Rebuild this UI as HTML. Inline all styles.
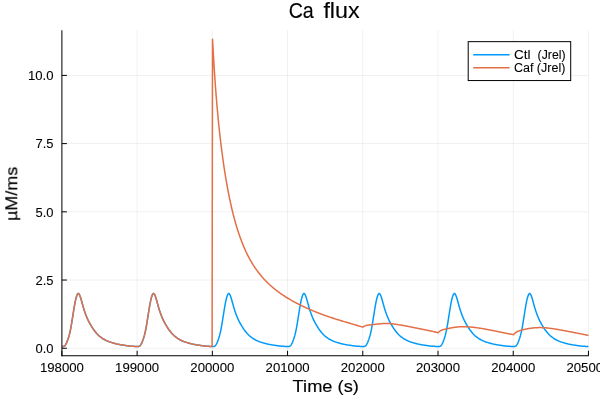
<!DOCTYPE html>
<html><head><meta charset="utf-8"><title>Ca flux</title>
<style>html,body{margin:0;padding:0;background:#fff;width:600px;height:400px;overflow:hidden;font-family:"Liberation Sans",sans-serif}</style>
</head><body>
<svg width="600" height="400" viewBox="0 0 600 400" style="position:absolute;left:0;top:0;display:block">
<defs><filter id="nf" x="0" y="0" width="600" height="400" filterUnits="userSpaceOnUse"><feOffset dx="0" dy="0"/></filter></defs>
<rect width="600" height="400" fill="#fff"/>
<path d="M61.90,30.3V355.3 M137.12,30.3V355.3 M212.34,30.3V355.3 M287.56,30.3V355.3 M362.78,30.3V355.3 M438.00,30.3V355.3 M513.22,30.3V355.3 M588.44,30.3V355.3 M61.9,348.25H588.4 M61.9,280.04H588.4 M61.9,211.82H588.4 M61.9,143.61H588.4 M61.9,75.40H588.4" stroke="#000" stroke-opacity="0.1" stroke-width="0.6" fill="none"/>
<clipPath id="c"><rect x="61.9" y="30.3" width="527.1" height="325.0"/></clipPath>
<g clip-path="url(#c)" fill="none" stroke-width="1.5" stroke-linejoin="round">
<path d="M61.90,346.55 L62.30,346.54 L62.70,346.53 L63.10,346.50 L63.50,346.44 L63.90,346.32 L64.30,346.15 L64.70,345.89 L65.10,345.42 L65.50,344.83 L65.90,344.17 L66.30,343.45 L66.70,342.59 L67.10,341.63 L67.50,340.60 L67.90,339.51 L68.30,338.32 L68.70,337.03 L69.10,335.64 L69.50,334.10 L69.90,332.40 L70.30,330.55 L70.70,328.52 L71.10,326.34 L71.50,324.06 L71.90,321.62 L72.30,319.12 L72.70,316.60 L73.10,314.02 L73.50,311.50 L73.90,309.05 L74.30,306.68 L74.70,304.46 L75.10,302.34 L75.50,300.38 L75.90,298.70 L76.30,297.22 L76.70,295.97 L77.10,294.94 L77.50,294.14 L77.90,293.65 L78.30,293.40 L78.70,293.60 L79.10,294.02 L79.50,294.76 L79.90,295.70 L80.30,296.78 L80.70,298.02 L81.10,299.33 L81.50,300.73 L81.90,302.19 L82.30,303.65 L82.70,305.06 L83.10,306.48 L83.50,307.87 L83.90,309.19 L84.30,310.42 L84.70,311.62 L85.10,312.79 L85.50,313.92 L85.90,315.00 L86.30,316.05 L86.70,317.04 L87.10,317.98 L87.50,318.88 L87.90,319.73 L88.30,320.55 L88.70,321.35 L89.10,322.11 L89.50,322.85 L89.90,323.57 L90.30,324.28 L90.70,324.97 L91.10,325.66 L91.50,326.33 L91.90,326.98 L92.30,327.62 L92.70,328.23 L93.10,328.83 L93.50,329.41 L93.90,329.97 L94.30,330.50 L94.70,331.01 L95.10,331.52 L95.50,332.01 L95.90,332.49 L96.30,332.96 L96.70,333.42 L97.10,333.86 L97.50,334.28 L97.90,334.69 L98.30,335.09 L98.70,335.47 L99.10,335.83 L99.50,336.17 L99.90,336.50 L100.30,336.82 L100.70,337.13 L101.10,337.43 L101.50,337.73 L101.90,338.01 L102.30,338.28 L102.70,338.54 L103.10,338.79 L103.50,339.04 L103.90,339.27 L104.30,339.50 L104.70,339.72 L105.10,339.93 L105.50,340.14 L105.90,340.34 L106.30,340.54 L106.70,340.72 L107.10,340.91 L107.50,341.08 L107.90,341.25 L108.30,341.42 L108.70,341.58 L109.10,341.73 L109.50,341.87 L109.90,342.01 L110.30,342.15 L110.70,342.28 L111.10,342.40 L111.50,342.52 L111.90,342.64 L112.30,342.75 L112.70,342.87 L113.10,342.98 L113.50,343.09 L113.90,343.19 L114.30,343.30 L114.70,343.41 L115.10,343.51 L115.50,343.62 L115.90,343.72 L116.30,343.82 L116.70,343.92 L117.10,344.02 L117.50,344.11 L117.90,344.21 L118.30,344.29 L118.70,344.38 L119.10,344.46 L119.50,344.54 L119.90,344.61 L120.30,344.68 L120.70,344.75 L121.10,344.82 L121.50,344.88 L121.90,344.94 L122.30,345.00 L122.70,345.06 L123.10,345.12 L123.50,345.18 L123.90,345.24 L124.30,345.30 L124.70,345.36 L125.10,345.42 L125.50,345.48 L125.90,345.54 L126.30,345.61 L126.70,345.66 L127.10,345.72 L127.50,345.78 L127.90,345.83 L128.30,345.89 L128.70,345.93 L129.10,345.98 L129.50,346.02 L129.90,346.06 L130.30,346.10 L130.70,346.13 L131.10,346.17 L131.50,346.20 L131.90,346.23 L132.30,346.26 L132.70,346.29 L133.10,346.32 L133.50,346.35 L133.90,346.37 L134.30,346.40 L134.70,346.42 L135.10,346.45 L135.50,346.47 L135.90,346.49 L136.30,346.51 L136.70,346.53 L137.10,346.55 L137.12,346.55 L137.52,346.54 L137.92,346.53 L138.32,346.50 L138.72,346.44 L139.12,346.32 L139.52,346.15 L139.92,345.89 L140.32,345.42 L140.72,344.83 L141.12,344.17 L141.52,343.45 L141.92,342.59 L142.32,341.63 L142.72,340.60 L143.12,339.51 L143.52,338.32 L143.92,337.03 L144.32,335.64 L144.72,334.10 L145.12,332.40 L145.52,330.55 L145.92,328.52 L146.32,326.34 L146.72,324.06 L147.12,321.62 L147.52,319.12 L147.92,316.60 L148.32,314.02 L148.72,311.50 L149.12,309.05 L149.52,306.68 L149.92,304.46 L150.32,302.34 L150.72,300.38 L151.12,298.70 L151.52,297.22 L151.92,295.97 L152.32,294.94 L152.72,294.14 L153.12,293.65 L153.52,293.40 L153.92,293.60 L154.32,294.02 L154.72,294.76 L155.12,295.70 L155.52,296.78 L155.92,298.02 L156.32,299.33 L156.72,300.73 L157.12,302.19 L157.52,303.65 L157.92,305.06 L158.32,306.48 L158.72,307.87 L159.12,309.19 L159.52,310.42 L159.92,311.62 L160.32,312.79 L160.72,313.92 L161.12,315.00 L161.52,316.05 L161.92,317.04 L162.32,317.98 L162.72,318.88 L163.12,319.73 L163.52,320.55 L163.92,321.35 L164.32,322.11 L164.72,322.85 L165.12,323.57 L165.52,324.28 L165.92,324.97 L166.32,325.66 L166.72,326.33 L167.12,326.98 L167.52,327.62 L167.92,328.23 L168.32,328.83 L168.72,329.41 L169.12,329.97 L169.52,330.50 L169.92,331.01 L170.32,331.52 L170.72,332.01 L171.12,332.49 L171.52,332.96 L171.92,333.42 L172.32,333.86 L172.72,334.28 L173.12,334.69 L173.52,335.09 L173.92,335.47 L174.32,335.83 L174.72,336.17 L175.12,336.50 L175.52,336.82 L175.92,337.13 L176.32,337.43 L176.72,337.73 L177.12,338.01 L177.52,338.28 L177.92,338.54 L178.32,338.79 L178.72,339.04 L179.12,339.27 L179.52,339.50 L179.92,339.72 L180.32,339.93 L180.72,340.14 L181.12,340.34 L181.52,340.54 L181.92,340.72 L182.32,340.91 L182.72,341.08 L183.12,341.25 L183.52,341.42 L183.92,341.58 L184.32,341.73 L184.72,341.87 L185.12,342.01 L185.52,342.15 L185.92,342.28 L186.32,342.40 L186.72,342.52 L187.12,342.64 L187.52,342.75 L187.92,342.87 L188.32,342.98 L188.72,343.09 L189.12,343.19 L189.52,343.30 L189.92,343.41 L190.32,343.51 L190.72,343.62 L191.12,343.72 L191.52,343.82 L191.92,343.92 L192.32,344.02 L192.72,344.11 L193.12,344.21 L193.52,344.29 L193.92,344.38 L194.32,344.46 L194.72,344.54 L195.12,344.61 L195.52,344.68 L195.92,344.75 L196.32,344.82 L196.72,344.88 L197.12,344.94 L197.52,345.00 L197.92,345.06 L198.32,345.12 L198.72,345.18 L199.12,345.24 L199.52,345.30 L199.92,345.36 L200.32,345.42 L200.72,345.48 L201.12,345.54 L201.52,345.61 L201.92,345.66 L202.32,345.72 L202.72,345.78 L203.12,345.83 L203.52,345.89 L203.92,345.93 L204.32,345.98 L204.72,346.02 L205.12,346.06 L205.52,346.10 L205.92,346.13 L206.32,346.17 L206.72,346.20 L207.12,346.23 L207.52,346.26 L207.92,346.29 L208.32,346.32 L208.72,346.35 L209.12,346.37 L209.52,346.40 L209.92,346.42 L210.32,346.45 L210.72,346.47 L211.12,346.49 L211.52,346.51 L211.92,346.53 L212.32,346.55 L212.34,346.55 L212.74,346.54 L213.14,346.53 L213.54,346.50 L213.94,346.44 L214.34,346.32 L214.74,346.15 L215.14,345.89 L215.54,345.42 L215.94,344.83 L216.34,344.17 L216.74,343.45 L217.14,342.59 L217.54,341.63 L217.94,340.60 L218.34,339.51 L218.74,338.32 L219.14,337.03 L219.54,335.64 L219.94,334.10 L220.34,332.40 L220.74,330.55 L221.14,328.52 L221.54,326.34 L221.94,324.06 L222.34,321.62 L222.74,319.12 L223.14,316.60 L223.54,314.02 L223.94,311.50 L224.34,309.05 L224.74,306.68 L225.14,304.46 L225.54,302.34 L225.94,300.38 L226.34,298.70 L226.74,297.22 L227.14,295.97 L227.54,294.94 L227.94,294.14 L228.34,293.65 L228.74,293.40 L229.14,293.60 L229.54,294.02 L229.94,294.76 L230.34,295.70 L230.74,296.78 L231.14,298.02 L231.54,299.33 L231.94,300.73 L232.34,302.19 L232.74,303.65 L233.14,305.06 L233.54,306.48 L233.94,307.87 L234.34,309.19 L234.74,310.42 L235.14,311.62 L235.54,312.79 L235.94,313.92 L236.34,315.00 L236.74,316.05 L237.14,317.04 L237.54,317.98 L237.94,318.88 L238.34,319.73 L238.74,320.55 L239.14,321.35 L239.54,322.11 L239.94,322.85 L240.34,323.57 L240.74,324.28 L241.14,324.97 L241.54,325.66 L241.94,326.33 L242.34,326.98 L242.74,327.62 L243.14,328.23 L243.54,328.83 L243.94,329.41 L244.34,329.97 L244.74,330.50 L245.14,331.01 L245.54,331.52 L245.94,332.01 L246.34,332.49 L246.74,332.96 L247.14,333.42 L247.54,333.86 L247.94,334.28 L248.34,334.69 L248.74,335.09 L249.14,335.47 L249.54,335.83 L249.94,336.17 L250.34,336.50 L250.74,336.82 L251.14,337.13 L251.54,337.43 L251.94,337.73 L252.34,338.01 L252.74,338.28 L253.14,338.54 L253.54,338.79 L253.94,339.04 L254.34,339.27 L254.74,339.50 L255.14,339.72 L255.54,339.93 L255.94,340.14 L256.34,340.34 L256.74,340.54 L257.14,340.72 L257.54,340.91 L257.94,341.08 L258.34,341.25 L258.74,341.42 L259.14,341.58 L259.54,341.73 L259.94,341.87 L260.34,342.01 L260.74,342.15 L261.14,342.28 L261.54,342.40 L261.94,342.52 L262.34,342.64 L262.74,342.75 L263.14,342.87 L263.54,342.98 L263.94,343.09 L264.34,343.19 L264.74,343.30 L265.14,343.41 L265.54,343.51 L265.94,343.62 L266.34,343.72 L266.74,343.82 L267.14,343.92 L267.54,344.02 L267.94,344.11 L268.34,344.21 L268.74,344.29 L269.14,344.38 L269.54,344.46 L269.94,344.54 L270.34,344.61 L270.74,344.68 L271.14,344.75 L271.54,344.82 L271.94,344.88 L272.34,344.94 L272.74,345.00 L273.14,345.06 L273.54,345.12 L273.94,345.18 L274.34,345.24 L274.74,345.30 L275.14,345.36 L275.54,345.42 L275.94,345.48 L276.34,345.54 L276.74,345.61 L277.14,345.66 L277.54,345.72 L277.94,345.78 L278.34,345.83 L278.74,345.89 L279.14,345.93 L279.54,345.98 L279.94,346.02 L280.34,346.06 L280.74,346.10 L281.14,346.13 L281.54,346.17 L281.94,346.20 L282.34,346.23 L282.74,346.26 L283.14,346.29 L283.54,346.32 L283.94,346.35 L284.34,346.37 L284.74,346.40 L285.14,346.42 L285.54,346.45 L285.94,346.47 L286.34,346.49 L286.74,346.51 L287.14,346.53 L287.54,346.55 L287.56,346.55 L287.96,346.54 L288.36,346.53 L288.76,346.50 L289.16,346.44 L289.56,346.32 L289.96,346.15 L290.36,345.89 L290.76,345.42 L291.16,344.83 L291.56,344.17 L291.96,343.45 L292.36,342.59 L292.76,341.63 L293.16,340.60 L293.56,339.51 L293.96,338.32 L294.36,337.03 L294.76,335.64 L295.16,334.10 L295.56,332.40 L295.96,330.55 L296.36,328.52 L296.76,326.34 L297.16,324.06 L297.56,321.62 L297.96,319.12 L298.36,316.60 L298.76,314.02 L299.16,311.50 L299.56,309.05 L299.96,306.68 L300.36,304.46 L300.76,302.34 L301.16,300.38 L301.56,298.70 L301.96,297.22 L302.36,295.97 L302.76,294.94 L303.16,294.14 L303.56,293.65 L303.96,293.40 L304.36,293.60 L304.76,294.02 L305.16,294.76 L305.56,295.70 L305.96,296.78 L306.36,298.02 L306.76,299.33 L307.16,300.73 L307.56,302.19 L307.96,303.65 L308.36,305.06 L308.76,306.48 L309.16,307.87 L309.56,309.19 L309.96,310.42 L310.36,311.62 L310.76,312.79 L311.16,313.92 L311.56,315.00 L311.96,316.05 L312.36,317.04 L312.76,317.98 L313.16,318.88 L313.56,319.73 L313.96,320.55 L314.36,321.35 L314.76,322.11 L315.16,322.85 L315.56,323.57 L315.96,324.28 L316.36,324.97 L316.76,325.66 L317.16,326.33 L317.56,326.98 L317.96,327.62 L318.36,328.23 L318.76,328.83 L319.16,329.41 L319.56,329.97 L319.96,330.50 L320.36,331.01 L320.76,331.52 L321.16,332.01 L321.56,332.49 L321.96,332.96 L322.36,333.42 L322.76,333.86 L323.16,334.28 L323.56,334.69 L323.96,335.09 L324.36,335.47 L324.76,335.83 L325.16,336.17 L325.56,336.50 L325.96,336.82 L326.36,337.13 L326.76,337.43 L327.16,337.73 L327.56,338.01 L327.96,338.28 L328.36,338.54 L328.76,338.79 L329.16,339.04 L329.56,339.27 L329.96,339.50 L330.36,339.72 L330.76,339.93 L331.16,340.14 L331.56,340.34 L331.96,340.54 L332.36,340.72 L332.76,340.91 L333.16,341.08 L333.56,341.25 L333.96,341.42 L334.36,341.58 L334.76,341.73 L335.16,341.87 L335.56,342.01 L335.96,342.15 L336.36,342.28 L336.76,342.40 L337.16,342.52 L337.56,342.64 L337.96,342.75 L338.36,342.87 L338.76,342.98 L339.16,343.09 L339.56,343.19 L339.96,343.30 L340.36,343.41 L340.76,343.51 L341.16,343.62 L341.56,343.72 L341.96,343.82 L342.36,343.92 L342.76,344.02 L343.16,344.11 L343.56,344.21 L343.96,344.29 L344.36,344.38 L344.76,344.46 L345.16,344.54 L345.56,344.61 L345.96,344.68 L346.36,344.75 L346.76,344.82 L347.16,344.88 L347.56,344.94 L347.96,345.00 L348.36,345.06 L348.76,345.12 L349.16,345.18 L349.56,345.24 L349.96,345.30 L350.36,345.36 L350.76,345.42 L351.16,345.48 L351.56,345.54 L351.96,345.61 L352.36,345.66 L352.76,345.72 L353.16,345.78 L353.56,345.83 L353.96,345.89 L354.36,345.93 L354.76,345.98 L355.16,346.02 L355.56,346.06 L355.96,346.10 L356.36,346.13 L356.76,346.17 L357.16,346.20 L357.56,346.23 L357.96,346.26 L358.36,346.29 L358.76,346.32 L359.16,346.35 L359.56,346.37 L359.96,346.40 L360.36,346.42 L360.76,346.45 L361.16,346.47 L361.56,346.49 L361.96,346.51 L362.36,346.53 L362.76,346.55 L362.78,346.55 L363.18,346.54 L363.58,346.53 L363.98,346.50 L364.38,346.44 L364.78,346.32 L365.18,346.15 L365.58,345.89 L365.98,345.42 L366.38,344.83 L366.78,344.17 L367.18,343.45 L367.58,342.59 L367.98,341.63 L368.38,340.60 L368.78,339.51 L369.18,338.32 L369.58,337.03 L369.98,335.64 L370.38,334.10 L370.78,332.40 L371.18,330.55 L371.58,328.52 L371.98,326.34 L372.38,324.06 L372.78,321.62 L373.18,319.12 L373.58,316.60 L373.98,314.02 L374.38,311.50 L374.78,309.05 L375.18,306.68 L375.58,304.46 L375.98,302.34 L376.38,300.38 L376.78,298.70 L377.18,297.22 L377.58,295.97 L377.98,294.94 L378.38,294.14 L378.78,293.65 L379.18,293.40 L379.58,293.60 L379.98,294.02 L380.38,294.76 L380.78,295.70 L381.18,296.78 L381.58,298.02 L381.98,299.33 L382.38,300.73 L382.78,302.19 L383.18,303.65 L383.58,305.06 L383.98,306.48 L384.38,307.87 L384.78,309.19 L385.18,310.42 L385.58,311.62 L385.98,312.79 L386.38,313.92 L386.78,315.00 L387.18,316.05 L387.58,317.04 L387.98,317.98 L388.38,318.88 L388.78,319.73 L389.18,320.55 L389.58,321.35 L389.98,322.11 L390.38,322.85 L390.78,323.57 L391.18,324.28 L391.58,324.97 L391.98,325.66 L392.38,326.33 L392.78,326.98 L393.18,327.62 L393.58,328.23 L393.98,328.83 L394.38,329.41 L394.78,329.97 L395.18,330.50 L395.58,331.01 L395.98,331.52 L396.38,332.01 L396.78,332.49 L397.18,332.96 L397.58,333.42 L397.98,333.86 L398.38,334.28 L398.78,334.69 L399.18,335.09 L399.58,335.47 L399.98,335.83 L400.38,336.17 L400.78,336.50 L401.18,336.82 L401.58,337.13 L401.98,337.43 L402.38,337.73 L402.78,338.01 L403.18,338.28 L403.58,338.54 L403.98,338.79 L404.38,339.04 L404.78,339.27 L405.18,339.50 L405.58,339.72 L405.98,339.93 L406.38,340.14 L406.78,340.34 L407.18,340.54 L407.58,340.72 L407.98,340.91 L408.38,341.08 L408.78,341.25 L409.18,341.42 L409.58,341.58 L409.98,341.73 L410.38,341.87 L410.78,342.01 L411.18,342.15 L411.58,342.28 L411.98,342.40 L412.38,342.52 L412.78,342.64 L413.18,342.75 L413.58,342.87 L413.98,342.98 L414.38,343.09 L414.78,343.19 L415.18,343.30 L415.58,343.41 L415.98,343.51 L416.38,343.62 L416.78,343.72 L417.18,343.82 L417.58,343.92 L417.98,344.02 L418.38,344.11 L418.78,344.21 L419.18,344.29 L419.58,344.38 L419.98,344.46 L420.38,344.54 L420.78,344.61 L421.18,344.68 L421.58,344.75 L421.98,344.82 L422.38,344.88 L422.78,344.94 L423.18,345.00 L423.58,345.06 L423.98,345.12 L424.38,345.18 L424.78,345.24 L425.18,345.30 L425.58,345.36 L425.98,345.42 L426.38,345.48 L426.78,345.54 L427.18,345.61 L427.58,345.66 L427.98,345.72 L428.38,345.78 L428.78,345.83 L429.18,345.89 L429.58,345.93 L429.98,345.98 L430.38,346.02 L430.78,346.06 L431.18,346.10 L431.58,346.13 L431.98,346.17 L432.38,346.20 L432.78,346.23 L433.18,346.26 L433.58,346.29 L433.98,346.32 L434.38,346.35 L434.78,346.37 L435.18,346.40 L435.58,346.42 L435.98,346.45 L436.38,346.47 L436.78,346.49 L437.18,346.51 L437.58,346.53 L437.98,346.55 L438.00,346.55 L438.40,346.54 L438.80,346.53 L439.20,346.50 L439.60,346.44 L440.00,346.32 L440.40,346.15 L440.80,345.89 L441.20,345.42 L441.60,344.83 L442.00,344.17 L442.40,343.45 L442.80,342.59 L443.20,341.63 L443.60,340.60 L444.00,339.51 L444.40,338.32 L444.80,337.03 L445.20,335.64 L445.60,334.10 L446.00,332.40 L446.40,330.55 L446.80,328.52 L447.20,326.34 L447.60,324.06 L448.00,321.62 L448.40,319.12 L448.80,316.60 L449.20,314.02 L449.60,311.50 L450.00,309.05 L450.40,306.68 L450.80,304.46 L451.20,302.34 L451.60,300.38 L452.00,298.70 L452.40,297.22 L452.80,295.97 L453.20,294.94 L453.60,294.14 L454.00,293.65 L454.40,293.40 L454.80,293.60 L455.20,294.02 L455.60,294.76 L456.00,295.70 L456.40,296.78 L456.80,298.02 L457.20,299.33 L457.60,300.73 L458.00,302.19 L458.40,303.65 L458.80,305.06 L459.20,306.48 L459.60,307.87 L460.00,309.19 L460.40,310.42 L460.80,311.62 L461.20,312.79 L461.60,313.92 L462.00,315.00 L462.40,316.05 L462.80,317.04 L463.20,317.98 L463.60,318.88 L464.00,319.73 L464.40,320.55 L464.80,321.35 L465.20,322.11 L465.60,322.85 L466.00,323.57 L466.40,324.28 L466.80,324.97 L467.20,325.66 L467.60,326.33 L468.00,326.98 L468.40,327.62 L468.80,328.23 L469.20,328.83 L469.60,329.41 L470.00,329.97 L470.40,330.50 L470.80,331.01 L471.20,331.52 L471.60,332.01 L472.00,332.49 L472.40,332.96 L472.80,333.42 L473.20,333.86 L473.60,334.28 L474.00,334.69 L474.40,335.09 L474.80,335.47 L475.20,335.83 L475.60,336.17 L476.00,336.50 L476.40,336.82 L476.80,337.13 L477.20,337.43 L477.60,337.73 L478.00,338.01 L478.40,338.28 L478.80,338.54 L479.20,338.79 L479.60,339.04 L480.00,339.27 L480.40,339.50 L480.80,339.72 L481.20,339.93 L481.60,340.14 L482.00,340.34 L482.40,340.54 L482.80,340.72 L483.20,340.91 L483.60,341.08 L484.00,341.25 L484.40,341.42 L484.80,341.58 L485.20,341.73 L485.60,341.87 L486.00,342.01 L486.40,342.15 L486.80,342.28 L487.20,342.40 L487.60,342.52 L488.00,342.64 L488.40,342.75 L488.80,342.87 L489.20,342.98 L489.60,343.09 L490.00,343.19 L490.40,343.30 L490.80,343.41 L491.20,343.51 L491.60,343.62 L492.00,343.72 L492.40,343.82 L492.80,343.92 L493.20,344.02 L493.60,344.11 L494.00,344.21 L494.40,344.29 L494.80,344.38 L495.20,344.46 L495.60,344.54 L496.00,344.61 L496.40,344.68 L496.80,344.75 L497.20,344.82 L497.60,344.88 L498.00,344.94 L498.40,345.00 L498.80,345.06 L499.20,345.12 L499.60,345.18 L500.00,345.24 L500.40,345.30 L500.80,345.36 L501.20,345.42 L501.60,345.48 L502.00,345.54 L502.40,345.61 L502.80,345.66 L503.20,345.72 L503.60,345.78 L504.00,345.83 L504.40,345.89 L504.80,345.93 L505.20,345.98 L505.60,346.02 L506.00,346.06 L506.40,346.10 L506.80,346.13 L507.20,346.17 L507.60,346.20 L508.00,346.23 L508.40,346.26 L508.80,346.29 L509.20,346.32 L509.60,346.35 L510.00,346.37 L510.40,346.40 L510.80,346.42 L511.20,346.45 L511.60,346.47 L512.00,346.49 L512.40,346.51 L512.80,346.53 L513.20,346.55 L513.22,346.55 L513.62,346.54 L514.02,346.53 L514.42,346.50 L514.82,346.44 L515.22,346.32 L515.62,346.15 L516.02,345.89 L516.42,345.42 L516.82,344.83 L517.22,344.17 L517.62,343.45 L518.02,342.59 L518.42,341.63 L518.82,340.60 L519.22,339.51 L519.62,338.32 L520.02,337.03 L520.42,335.64 L520.82,334.10 L521.22,332.40 L521.62,330.55 L522.02,328.52 L522.42,326.34 L522.82,324.06 L523.22,321.62 L523.62,319.12 L524.02,316.60 L524.42,314.02 L524.82,311.50 L525.22,309.05 L525.62,306.68 L526.02,304.46 L526.42,302.34 L526.82,300.38 L527.22,298.70 L527.62,297.22 L528.02,295.97 L528.42,294.94 L528.82,294.14 L529.22,293.65 L529.62,293.40 L530.02,293.60 L530.42,294.02 L530.82,294.76 L531.22,295.70 L531.62,296.78 L532.02,298.02 L532.42,299.33 L532.82,300.73 L533.22,302.19 L533.62,303.65 L534.02,305.06 L534.42,306.48 L534.82,307.87 L535.22,309.19 L535.62,310.42 L536.02,311.62 L536.42,312.79 L536.82,313.92 L537.22,315.00 L537.62,316.05 L538.02,317.04 L538.42,317.98 L538.82,318.88 L539.22,319.73 L539.62,320.55 L540.02,321.35 L540.42,322.11 L540.82,322.85 L541.22,323.57 L541.62,324.28 L542.02,324.97 L542.42,325.66 L542.82,326.33 L543.22,326.98 L543.62,327.62 L544.02,328.23 L544.42,328.83 L544.82,329.41 L545.22,329.97 L545.62,330.50 L546.02,331.01 L546.42,331.52 L546.82,332.01 L547.22,332.49 L547.62,332.96 L548.02,333.42 L548.42,333.86 L548.82,334.28 L549.22,334.69 L549.62,335.09 L550.02,335.47 L550.42,335.83 L550.82,336.17 L551.22,336.50 L551.62,336.82 L552.02,337.13 L552.42,337.43 L552.82,337.73 L553.22,338.01 L553.62,338.28 L554.02,338.54 L554.42,338.79 L554.82,339.04 L555.22,339.27 L555.62,339.50 L556.02,339.72 L556.42,339.93 L556.82,340.14 L557.22,340.34 L557.62,340.54 L558.02,340.72 L558.42,340.91 L558.82,341.08 L559.22,341.25 L559.62,341.42 L560.02,341.58 L560.42,341.73 L560.82,341.87 L561.22,342.01 L561.62,342.15 L562.02,342.28 L562.42,342.40 L562.82,342.52 L563.22,342.64 L563.62,342.75 L564.02,342.87 L564.42,342.98 L564.82,343.09 L565.22,343.19 L565.62,343.30 L566.02,343.41 L566.42,343.51 L566.82,343.62 L567.22,343.72 L567.62,343.82 L568.02,343.92 L568.42,344.02 L568.82,344.11 L569.22,344.21 L569.62,344.29 L570.02,344.38 L570.42,344.46 L570.82,344.54 L571.22,344.61 L571.62,344.68 L572.02,344.75 L572.42,344.82 L572.82,344.88 L573.22,344.94 L573.62,345.00 L574.02,345.06 L574.42,345.12 L574.82,345.18 L575.22,345.24 L575.62,345.30 L576.02,345.36 L576.42,345.42 L576.82,345.48 L577.22,345.54 L577.62,345.61 L578.02,345.66 L578.42,345.72 L578.82,345.78 L579.22,345.83 L579.62,345.89 L580.02,345.93 L580.42,345.98 L580.82,346.02 L581.22,346.06 L581.62,346.10 L582.02,346.13 L582.42,346.17 L582.82,346.20 L583.22,346.23 L583.62,346.26 L584.02,346.29 L584.42,346.32 L584.82,346.35 L585.22,346.37 L585.62,346.40 L586.02,346.42 L586.42,346.45 L586.82,346.47 L587.22,346.49 L587.62,346.51 L588.02,346.53 L588.40,346.55" stroke="#009AFA"/>
<path d="M61.90,346.55 L62.30,346.54 L62.70,346.53 L63.10,346.50 L63.50,346.44 L63.90,346.32 L64.30,346.15 L64.70,345.89 L65.10,345.42 L65.50,344.83 L65.90,344.17 L66.30,343.45 L66.70,342.59 L67.10,341.63 L67.50,340.60 L67.90,339.51 L68.30,338.32 L68.70,337.03 L69.10,335.64 L69.50,334.10 L69.90,332.40 L70.30,330.55 L70.70,328.52 L71.10,326.34 L71.50,324.06 L71.90,321.62 L72.30,319.12 L72.70,316.60 L73.10,314.02 L73.50,311.50 L73.90,309.05 L74.30,306.68 L74.70,304.46 L75.10,302.34 L75.50,300.38 L75.90,298.70 L76.30,297.22 L76.70,295.97 L77.10,294.94 L77.50,294.14 L77.90,293.65 L78.30,293.40 L78.70,293.60 L79.10,294.02 L79.50,294.76 L79.90,295.70 L80.30,296.78 L80.70,298.02 L81.10,299.33 L81.50,300.73 L81.90,302.19 L82.30,303.65 L82.70,305.06 L83.10,306.48 L83.50,307.87 L83.90,309.19 L84.30,310.42 L84.70,311.62 L85.10,312.79 L85.50,313.92 L85.90,315.00 L86.30,316.05 L86.70,317.04 L87.10,317.98 L87.50,318.88 L87.90,319.73 L88.30,320.55 L88.70,321.35 L89.10,322.11 L89.50,322.85 L89.90,323.57 L90.30,324.28 L90.70,324.97 L91.10,325.66 L91.50,326.33 L91.90,326.98 L92.30,327.62 L92.70,328.23 L93.10,328.83 L93.50,329.41 L93.90,329.97 L94.30,330.50 L94.70,331.01 L95.10,331.52 L95.50,332.01 L95.90,332.49 L96.30,332.96 L96.70,333.42 L97.10,333.86 L97.50,334.28 L97.90,334.69 L98.30,335.09 L98.70,335.47 L99.10,335.83 L99.50,336.17 L99.90,336.50 L100.30,336.82 L100.70,337.13 L101.10,337.43 L101.50,337.73 L101.90,338.01 L102.30,338.28 L102.70,338.54 L103.10,338.79 L103.50,339.04 L103.90,339.27 L104.30,339.50 L104.70,339.72 L105.10,339.93 L105.50,340.14 L105.90,340.34 L106.30,340.54 L106.70,340.72 L107.10,340.91 L107.50,341.08 L107.90,341.25 L108.30,341.42 L108.70,341.58 L109.10,341.73 L109.50,341.87 L109.90,342.01 L110.30,342.15 L110.70,342.28 L111.10,342.40 L111.50,342.52 L111.90,342.64 L112.30,342.75 L112.70,342.87 L113.10,342.98 L113.50,343.09 L113.90,343.19 L114.30,343.30 L114.70,343.41 L115.10,343.51 L115.50,343.62 L115.90,343.72 L116.30,343.82 L116.70,343.92 L117.10,344.02 L117.50,344.11 L117.90,344.21 L118.30,344.29 L118.70,344.38 L119.10,344.46 L119.50,344.54 L119.90,344.61 L120.30,344.68 L120.70,344.75 L121.10,344.82 L121.50,344.88 L121.90,344.94 L122.30,345.00 L122.70,345.06 L123.10,345.12 L123.50,345.18 L123.90,345.24 L124.30,345.30 L124.70,345.36 L125.10,345.42 L125.50,345.48 L125.90,345.54 L126.30,345.61 L126.70,345.66 L127.10,345.72 L127.50,345.78 L127.90,345.83 L128.30,345.89 L128.70,345.93 L129.10,345.98 L129.50,346.02 L129.90,346.06 L130.30,346.10 L130.70,346.13 L131.10,346.17 L131.50,346.20 L131.90,346.23 L132.30,346.26 L132.70,346.29 L133.10,346.32 L133.50,346.35 L133.90,346.37 L134.30,346.40 L134.70,346.42 L135.10,346.45 L135.50,346.47 L135.90,346.49 L136.30,346.51 L136.70,346.53 L137.10,346.55 L137.12,346.55 L137.52,346.54 L137.92,346.53 L138.32,346.50 L138.72,346.44 L139.12,346.32 L139.52,346.15 L139.92,345.89 L140.32,345.42 L140.72,344.83 L141.12,344.17 L141.52,343.45 L141.92,342.59 L142.32,341.63 L142.72,340.60 L143.12,339.51 L143.52,338.32 L143.92,337.03 L144.32,335.64 L144.72,334.10 L145.12,332.40 L145.52,330.55 L145.92,328.52 L146.32,326.34 L146.72,324.06 L147.12,321.62 L147.52,319.12 L147.92,316.60 L148.32,314.02 L148.72,311.50 L149.12,309.05 L149.52,306.68 L149.92,304.46 L150.32,302.34 L150.72,300.38 L151.12,298.70 L151.52,297.22 L151.92,295.97 L152.32,294.94 L152.72,294.14 L153.12,293.65 L153.52,293.40 L153.92,293.60 L154.32,294.02 L154.72,294.76 L155.12,295.70 L155.52,296.78 L155.92,298.02 L156.32,299.33 L156.72,300.73 L157.12,302.19 L157.52,303.65 L157.92,305.06 L158.32,306.48 L158.72,307.87 L159.12,309.19 L159.52,310.42 L159.92,311.62 L160.32,312.79 L160.72,313.92 L161.12,315.00 L161.52,316.05 L161.92,317.04 L162.32,317.98 L162.72,318.88 L163.12,319.73 L163.52,320.55 L163.92,321.35 L164.32,322.11 L164.72,322.85 L165.12,323.57 L165.52,324.28 L165.92,324.97 L166.32,325.66 L166.72,326.33 L167.12,326.98 L167.52,327.62 L167.92,328.23 L168.32,328.83 L168.72,329.41 L169.12,329.97 L169.52,330.50 L169.92,331.01 L170.32,331.52 L170.72,332.01 L171.12,332.49 L171.52,332.96 L171.92,333.42 L172.32,333.86 L172.72,334.28 L173.12,334.69 L173.52,335.09 L173.92,335.47 L174.32,335.83 L174.72,336.17 L175.12,336.50 L175.52,336.82 L175.92,337.13 L176.32,337.43 L176.72,337.73 L177.12,338.01 L177.52,338.28 L177.92,338.54 L178.32,338.79 L178.72,339.04 L179.12,339.27 L179.52,339.50 L179.92,339.72 L180.32,339.93 L180.72,340.14 L181.12,340.34 L181.52,340.54 L181.92,340.72 L182.32,340.91 L182.72,341.08 L183.12,341.25 L183.52,341.42 L183.92,341.58 L184.32,341.73 L184.72,341.87 L185.12,342.01 L185.52,342.15 L185.92,342.28 L186.32,342.40 L186.72,342.52 L187.12,342.64 L187.52,342.75 L187.92,342.87 L188.32,342.98 L188.72,343.09 L189.12,343.19 L189.52,343.30 L189.92,343.41 L190.32,343.51 L190.72,343.62 L191.12,343.72 L191.52,343.82 L191.92,343.92 L192.32,344.02 L192.72,344.11 L193.12,344.21 L193.52,344.29 L193.92,344.38 L194.32,344.46 L194.72,344.54 L195.12,344.61 L195.52,344.68 L195.92,344.75 L196.32,344.82 L196.72,344.88 L197.12,344.94 L197.52,345.00 L197.92,345.06 L198.32,345.12 L198.72,345.18 L199.12,345.24 L199.52,345.30 L199.92,345.36 L200.32,345.42 L200.72,345.48 L201.12,345.54 L201.52,345.61 L201.92,345.66 L202.32,345.72 L202.72,345.78 L203.12,345.83 L203.52,345.89 L203.92,345.93 L204.32,345.98 L204.72,346.02 L205.12,346.06 L205.52,346.10 L205.92,346.13 L206.32,346.17 L206.72,346.20 L207.12,346.23 L207.52,346.26 L207.92,346.29 L208.32,346.32 L208.72,346.35 L209.12,346.37 L209.52,346.40 L209.92,346.42 L210.32,346.45 L210.72,346.47 L211.12,346.49 L211.52,346.51 L211.92,346.53 L212.10,346.55 L212.50,39.20 L212.70,41.72 L213.10,49.29 L213.50,56.43 L213.90,63.19 L214.30,69.60 L214.70,75.68 L215.10,81.48 L215.50,87.01 L215.90,92.30 L216.30,97.36 L216.70,102.21 L217.10,106.86 L217.50,111.34 L217.90,115.66 L218.30,119.81 L218.70,123.83 L219.10,127.71 L219.50,131.46 L219.90,135.09 L220.30,138.61 L220.70,142.02 L221.10,145.34 L221.50,148.55 L221.90,151.68 L222.30,154.72 L222.70,157.68 L223.10,160.56 L223.50,163.36 L223.90,166.09 L224.30,168.75 L224.70,171.35 L225.10,173.88 L225.50,176.35 L225.90,178.76 L226.30,181.12 L226.70,183.41 L227.10,185.66 L227.50,187.85 L227.90,189.99 L228.30,192.08 L228.70,194.13 L229.10,196.13 L229.50,198.09 L229.90,200.00 L230.30,201.87 L230.70,203.70 L231.10,205.49 L231.50,207.24 L231.90,208.96 L232.30,210.64 L232.70,212.28 L233.10,213.89 L233.50,215.46 L233.90,217.00 L234.30,218.52 L234.70,219.99 L235.10,221.44 L235.50,222.86 L235.90,224.25 L236.30,225.62 L236.70,226.95 L237.10,228.26 L237.50,229.55 L237.90,230.80 L238.30,232.04 L238.70,233.25 L239.10,234.43 L239.50,235.60 L239.90,236.74 L240.30,237.85 L240.70,238.95 L241.10,240.03 L241.50,241.09 L241.90,242.12 L242.30,243.14 L242.70,244.14 L243.10,245.12 L243.50,246.08 L243.90,247.03 L244.30,247.96 L244.70,248.87 L245.10,249.76 L245.50,250.64 L245.90,251.51 L246.30,252.36 L246.70,253.19 L247.10,254.01 L247.50,254.82 L247.90,255.61 L248.30,256.39 L248.70,257.15 L249.10,257.90 L249.50,258.64 L249.90,259.37 L250.30,260.09 L250.70,260.79 L251.10,261.49 L251.50,262.17 L251.90,262.84 L252.30,263.50 L252.70,264.15 L253.10,264.79 L253.50,265.42 L253.90,266.04 L254.30,266.65 L254.70,267.25 L255.10,267.85 L255.50,268.43 L255.90,269.00 L256.30,269.57 L256.70,270.13 L257.10,270.68 L257.50,271.22 L257.90,271.76 L258.30,272.28 L258.70,272.80 L259.10,273.32 L259.50,273.82 L259.90,274.32 L260.30,274.81 L260.70,275.30 L261.10,275.78 L261.50,276.25 L261.90,276.72 L262.30,277.18 L262.70,277.63 L263.10,278.08 L263.50,278.52 L263.90,278.96 L264.30,279.39 L264.70,279.82 L265.10,280.24 L265.50,280.66 L265.90,281.07 L266.30,281.48 L266.70,281.88 L267.10,282.28 L267.50,282.67 L267.90,283.06 L268.30,283.44 L268.70,283.82 L269.10,284.19 L269.50,284.56 L269.90,284.93 L270.30,285.29 L270.70,285.65 L271.10,286.01 L271.50,286.36 L271.90,286.71 L272.30,287.05 L272.70,287.39 L273.10,287.73 L273.50,288.06 L273.90,288.39 L274.30,288.72 L274.70,289.04 L275.10,289.36 L275.50,289.68 L275.90,290.00 L276.30,290.31 L276.70,290.62 L277.10,290.92 L277.50,291.23 L277.90,291.53 L278.30,291.82 L278.70,292.12 L279.10,292.41 L279.50,292.70 L279.90,292.99 L280.30,293.27 L280.70,293.55 L281.10,293.83 L281.50,294.11 L281.90,294.38 L282.30,294.66 L282.70,294.93 L283.10,295.20 L283.50,295.46 L283.90,295.73 L284.30,295.99 L284.70,296.25 L285.10,296.50 L285.50,296.76 L285.90,297.01 L286.30,297.27 L286.70,297.52 L287.10,297.76 L287.50,298.01 L287.90,298.25 L288.30,298.50 L288.70,298.74 L289.10,298.98 L289.50,299.21 L289.90,299.45 L290.30,299.68 L290.70,299.91 L291.10,300.15 L291.50,300.37 L291.90,300.60 L292.30,300.83 L292.70,301.05 L293.10,301.28 L293.50,301.50 L293.90,301.72 L294.30,301.93 L294.70,302.15 L295.10,302.37 L295.50,302.58 L295.90,302.79 L296.30,303.01 L296.70,303.22 L297.10,303.42 L297.50,303.63 L297.90,303.84 L298.30,304.04 L298.70,304.25 L299.10,304.45 L299.50,304.65 L299.90,304.85 L300.30,305.05 L300.70,305.25 L301.10,305.44 L301.50,305.64 L301.90,305.83 L302.30,306.02 L302.70,306.22 L303.10,306.41 L303.50,306.60 L303.90,306.79 L304.30,306.97 L304.70,307.16 L305.10,307.34 L305.50,307.53 L305.90,307.71 L306.30,307.89 L306.70,308.08 L307.10,308.26 L307.50,308.44 L307.90,308.61 L308.30,308.79 L308.70,308.97 L309.10,309.14 L309.50,309.32 L309.90,309.49 L310.30,309.66 L310.70,309.83 L311.10,310.01 L311.50,310.18 L311.90,310.34 L312.30,310.51 L312.70,310.68 L313.10,310.85 L313.50,311.01 L313.90,311.18 L314.30,311.34 L314.70,311.50 L315.10,311.67 L315.50,311.83 L315.90,311.99 L316.30,312.15 L316.70,312.31 L317.10,312.46 L317.50,312.62 L317.90,312.78 L318.30,312.93 L318.70,313.09 L319.10,313.24 L319.50,313.40 L319.90,313.55 L320.30,313.70 L320.70,313.85 L321.10,314.00 L321.50,314.15 L321.90,314.30 L322.30,314.45 L322.70,314.60 L323.10,314.74 L323.50,314.89 L323.90,315.04 L324.30,315.18 L324.70,315.32 L325.10,315.47 L325.50,315.61 L325.90,315.75 L326.30,315.89 L326.70,316.03 L327.10,316.17 L327.50,316.31 L327.90,316.45 L328.30,316.59 L328.70,316.73 L329.10,316.86 L329.50,317.00 L329.90,317.14 L330.30,317.27 L330.70,317.41 L331.10,317.54 L331.50,317.67 L331.90,317.80 L332.30,317.94 L332.70,318.07 L333.10,318.20 L333.50,318.33 L333.90,318.46 L334.30,318.59 L334.70,318.71 L335.10,318.84 L335.50,318.97 L335.90,319.10 L336.30,319.22 L336.70,319.35 L337.10,319.47 L337.50,319.60 L337.90,319.72 L338.30,319.84 L338.70,319.96 L339.10,320.09 L339.50,320.21 L339.90,320.33 L340.30,320.45 L340.70,320.57 L341.10,320.69 L341.50,320.81 L341.90,320.93 L342.30,321.04 L342.70,321.16 L343.10,321.28 L343.50,321.39 L343.90,321.51 L344.30,321.62 L344.70,321.74 L345.10,321.85 L345.50,321.97 L345.90,322.09 L346.30,322.20 L346.70,322.32 L347.10,322.44 L347.50,322.56 L347.90,322.68 L348.30,322.80 L348.70,322.92 L349.10,323.04 L349.50,323.16 L349.90,323.28 L350.30,323.40 L350.70,323.52 L351.10,323.64 L351.50,323.76 L351.90,323.88 L352.30,324.00 L352.70,324.12 L353.10,324.24 L353.50,324.36 L353.90,324.48 L354.30,324.60 L354.70,324.72 L355.10,324.84 L355.50,324.96 L355.90,325.08 L356.30,325.20 L356.70,325.32 L357.10,325.44 L357.50,325.55 L357.90,325.67 L358.30,325.79 L358.70,325.91 L359.10,326.03 L359.50,326.15 L359.90,326.26 L360.30,326.38 L360.70,326.50 L361.10,326.62 L361.50,326.73 L361.90,326.85 L362.30,326.97 L362.70,327.09 L363.00,327.09 L363.50,326.70 L364.00,326.37 L364.50,326.10 L365.00,325.85 L365.50,325.65 L366.00,325.50 L366.50,325.40 L367.00,325.30 L367.50,325.22 L368.00,325.15 L368.50,325.09 L369.00,325.03 L369.50,324.97 L370.00,324.92 L370.50,324.87 L371.00,324.81 L371.50,324.76 L372.00,324.70 L372.50,324.64 L373.00,324.57 L373.50,324.51 L374.00,324.45 L374.50,324.39 L375.00,324.32 L375.50,324.26 L376.00,324.21 L376.50,324.15 L377.00,324.10 L377.50,324.05 L378.00,324.00 L378.50,323.95 L379.00,323.91 L379.50,323.86 L380.00,323.81 L380.50,323.76 L381.00,323.72 L381.50,323.67 L382.00,323.63 L382.50,323.59 L383.00,323.56 L383.50,323.54 L384.00,323.52 L384.50,323.50 L385.00,323.50 L385.50,323.50 L386.00,323.50 L386.50,323.51 L387.00,323.52 L387.50,323.53 L388.00,323.54 L388.50,323.55 L389.00,323.57 L389.50,323.58 L390.00,323.60 L390.50,323.62 L391.00,323.66 L391.50,323.71 L392.00,323.77 L392.50,323.84 L393.00,323.91 L393.50,323.98 L394.00,324.06 L394.50,324.13 L395.00,324.20 L395.50,324.27 L396.00,324.34 L396.50,324.41 L397.00,324.48 L397.50,324.56 L398.00,324.63 L398.50,324.71 L399.00,324.79 L399.50,324.87 L400.00,324.95 L400.50,325.03 L401.00,325.11 L401.50,325.19 L402.00,325.28 L402.50,325.36 L403.00,325.45 L403.50,325.54 L404.00,325.62 L404.50,325.71 L405.00,325.80 L405.50,325.89 L406.00,325.98 L406.50,326.08 L407.00,326.17 L407.50,326.27 L408.00,326.37 L408.50,326.47 L409.00,326.57 L409.50,326.67 L410.00,326.77 L410.50,326.87 L411.00,326.98 L411.50,327.08 L412.00,327.18 L412.50,327.29 L413.00,327.39 L413.50,327.49 L414.00,327.60 L414.50,327.70 L415.00,327.80 L415.50,327.90 L416.00,328.00 L416.50,328.10 L417.00,328.20 L417.50,328.30 L418.00,328.40 L418.50,328.50 L419.00,328.60 L419.50,328.71 L420.00,328.81 L420.50,328.91 L421.00,329.01 L421.50,329.11 L422.00,329.21 L422.50,329.31 L423.00,329.41 L423.50,329.51 L424.00,329.61 L424.50,329.71 L425.00,329.81 L425.50,329.92 L426.00,330.02 L426.50,330.12 L427.00,330.22 L427.50,330.33 L428.00,330.43 L428.50,330.54 L429.00,330.64 L429.50,330.75 L430.00,330.85 L430.50,330.96 L431.00,331.07 L431.50,331.17 L432.00,331.28 L432.50,331.39 L433.00,331.50 L433.50,331.61 L434.00,331.72 L434.50,331.84 L435.00,331.95 L435.50,332.07 L436.00,332.18 L436.50,332.30 L437.00,332.42 L437.50,332.53 L438.00,332.65 L438.20,332.70 L438.20,332.70 L438.70,332.19 L439.20,331.72 L439.70,331.33 L440.20,330.97 L440.70,330.65 L441.20,330.36 L441.70,330.12 L442.20,329.93 L442.70,329.77 L443.20,329.63 L443.70,329.50 L444.20,329.38 L444.70,329.27 L445.20,329.17 L445.70,329.07 L446.20,328.97 L446.70,328.86 L447.20,328.76 L447.70,328.65 L448.20,328.54 L448.70,328.43 L449.20,328.32 L449.70,328.21 L450.20,328.10 L450.70,328.00 L451.20,327.91 L451.70,327.81 L452.20,327.73 L452.70,327.65 L453.20,327.57 L453.70,327.50 L454.20,327.42 L454.70,327.35 L455.20,327.28 L455.70,327.21 L456.20,327.14 L456.70,327.08 L457.20,327.02 L457.70,326.96 L458.20,326.91 L458.70,326.87 L459.20,326.84 L459.70,326.81 L460.20,326.79 L460.70,326.78 L461.20,326.76 L461.70,326.75 L462.20,326.74 L462.70,326.73 L463.20,326.72 L463.70,326.71 L464.20,326.70 L464.70,326.70 L465.20,326.70 L465.70,326.71 L466.20,326.73 L466.70,326.75 L467.20,326.78 L467.70,326.82 L468.20,326.85 L468.70,326.89 L469.20,326.94 L469.70,326.98 L470.20,327.02 L470.70,327.06 L471.20,327.10 L471.70,327.15 L472.20,327.20 L472.70,327.25 L473.20,327.30 L473.70,327.36 L474.20,327.42 L474.70,327.48 L475.20,327.54 L475.70,327.61 L476.20,327.67 L476.70,327.74 L477.20,327.80 L477.70,327.87 L478.20,327.94 L478.70,328.01 L479.20,328.09 L479.70,328.16 L480.20,328.23 L480.70,328.30 L481.20,328.38 L481.70,328.46 L482.20,328.54 L482.70,328.63 L483.20,328.72 L483.70,328.80 L484.20,328.90 L484.70,328.99 L485.20,329.08 L485.70,329.17 L486.20,329.27 L486.70,329.37 L487.20,329.46 L487.70,329.56 L488.20,329.65 L488.70,329.75 L489.20,329.85 L489.70,329.94 L490.20,330.04 L490.70,330.13 L491.20,330.23 L491.70,330.33 L492.20,330.43 L492.70,330.52 L493.20,330.62 L493.70,330.72 L494.20,330.83 L494.70,330.93 L495.20,331.03 L495.70,331.13 L496.20,331.23 L496.70,331.34 L497.20,331.44 L497.70,331.55 L498.20,331.65 L498.70,331.75 L499.20,331.86 L499.70,331.96 L500.20,332.07 L500.70,332.17 L501.20,332.27 L501.70,332.38 L502.20,332.48 L502.70,332.59 L503.20,332.69 L503.70,332.79 L504.20,332.90 L504.70,333.00 L505.20,333.10 L505.70,333.20 L506.20,333.30 L506.70,333.40 L507.20,333.50 L507.70,333.60 L508.20,333.70 L508.70,333.79 L509.20,333.89 L509.70,333.98 L510.20,334.08 L510.70,334.17 L511.20,334.26 L511.70,334.35 L512.20,334.45 L512.70,334.54 L513.20,334.63 L513.60,334.70 L513.60,334.70 L514.10,334.11 L514.60,333.57 L515.10,333.11 L515.60,332.71 L516.10,332.34 L516.60,332.02 L517.10,331.75 L517.60,331.51 L518.10,331.29 L518.60,331.09 L519.10,330.90 L519.60,330.72 L520.10,330.56 L520.60,330.40 L521.10,330.25 L521.60,330.11 L522.10,329.97 L522.60,329.84 L523.10,329.71 L523.60,329.59 L524.10,329.47 L524.60,329.36 L525.10,329.25 L525.60,329.14 L526.10,329.04 L526.60,328.94 L527.10,328.85 L527.60,328.77 L528.10,328.68 L528.60,328.60 L529.10,328.52 L529.60,328.44 L530.10,328.36 L530.60,328.29 L531.10,328.22 L531.60,328.15 L532.10,328.08 L532.60,328.02 L533.10,327.96 L533.60,327.91 L534.10,327.86 L534.60,327.83 L535.10,327.79 L535.60,327.76 L536.10,327.74 L536.60,327.71 L537.10,327.68 L537.60,327.66 L538.10,327.64 L538.60,327.62 L539.10,327.61 L539.60,327.60 L540.10,327.60 L540.60,327.60 L541.10,327.61 L541.60,327.63 L542.10,327.65 L542.60,327.67 L543.10,327.69 L543.60,327.72 L544.10,327.75 L544.60,327.78 L545.10,327.81 L545.60,327.84 L546.10,327.87 L546.60,327.92 L547.10,327.96 L547.60,328.01 L548.10,328.06 L548.60,328.12 L549.10,328.18 L549.60,328.24 L550.10,328.30 L550.60,328.37 L551.10,328.44 L551.60,328.51 L552.10,328.58 L552.60,328.65 L553.10,328.72 L553.60,328.80 L554.10,328.87 L554.60,328.94 L555.10,329.01 L555.60,329.09 L556.10,329.17 L556.60,329.25 L557.10,329.33 L557.60,329.41 L558.10,329.50 L558.60,329.59 L559.10,329.68 L559.60,329.77 L560.10,329.87 L560.60,329.96 L561.10,330.06 L561.60,330.15 L562.10,330.25 L562.60,330.34 L563.10,330.44 L563.60,330.54 L564.10,330.63 L564.60,330.73 L565.10,330.82 L565.60,330.91 L566.10,331.01 L566.60,331.10 L567.10,331.19 L567.60,331.29 L568.10,331.38 L568.60,331.48 L569.10,331.58 L569.60,331.67 L570.10,331.77 L570.60,331.86 L571.10,331.96 L571.60,332.06 L572.10,332.15 L572.60,332.25 L573.10,332.35 L573.60,332.45 L574.10,332.54 L574.60,332.64 L575.10,332.74 L575.60,332.84 L576.10,332.94 L576.60,333.04 L577.10,333.13 L577.60,333.23 L578.10,333.33 L578.60,333.43 L579.10,333.53 L579.60,333.63 L580.10,333.73 L580.60,333.83 L581.10,333.93 L581.60,334.02 L582.10,334.12 L582.60,334.22 L583.10,334.32 L583.60,334.42 L584.10,334.52 L584.60,334.62 L585.10,334.72 L585.60,334.82 L586.10,334.92 L586.60,335.02 L587.10,335.12 L587.60,335.22 L588.10,335.32 L588.50,335.40" stroke="#E36F47"/>
</g>
<path d="M61.9,30.3V356.25 M61.4,355.75H588.9 M61.90,355.75v-5 M137.12,355.75v-5 M212.34,355.75v-5 M287.56,355.75v-5 M362.78,355.75v-5 M438.00,355.75v-5 M513.22,355.75v-5 M588.44,355.75v-5 M61.9,348.25h5 M61.9,280.04h5 M61.9,211.82h5 M61.9,143.61h5 M61.9,75.40h5" stroke="#000" stroke-width="1" fill="none"/>
<g font-family="Liberation Sans, sans-serif" font-size="12" fill="#000" stroke="#000" stroke-width="0.08" filter="url(#nf)">
<text x="39.90" y="372.0" textLength="44" lengthAdjust="spacingAndGlyphs">198000</text>
<text x="115.12" y="372.0" textLength="44" lengthAdjust="spacingAndGlyphs">199000</text>
<text x="190.34" y="372.0" textLength="44" lengthAdjust="spacingAndGlyphs">200000</text>
<text x="265.56" y="372.0" textLength="44" lengthAdjust="spacingAndGlyphs">201000</text>
<text x="340.78" y="372.0" textLength="44" lengthAdjust="spacingAndGlyphs">202000</text>
<text x="416.00" y="372.0" textLength="44" lengthAdjust="spacingAndGlyphs">203000</text>
<text x="491.22" y="372.0" textLength="44" lengthAdjust="spacingAndGlyphs">204000</text>
<text x="566.44" y="372.0" textLength="44" lengthAdjust="spacingAndGlyphs">205000</text>
<text x="35.50" y="352.95" textLength="18.0" lengthAdjust="spacingAndGlyphs">0.0</text>
<text x="35.50" y="284.74" textLength="18.0" lengthAdjust="spacingAndGlyphs">2.5</text>
<text x="35.50" y="216.52" textLength="18.0" lengthAdjust="spacingAndGlyphs">5.0</text>
<text x="35.50" y="148.31" textLength="18.0" lengthAdjust="spacingAndGlyphs">7.5</text>
<text x="27.90" y="80.10" textLength="25.6" lengthAdjust="spacingAndGlyphs">10.0</text>
</g>
<g font-family="Liberation Sans, sans-serif" fill="#000" stroke="#000" stroke-width="0.15" filter="url(#nf)">
<text y="18" font-size="21.5"><tspan x="288.7" textLength="25.1" lengthAdjust="spacingAndGlyphs">Ca</tspan> <tspan x="323.4" textLength="36.2" lengthAdjust="spacingAndGlyphs">flux</tspan></text>
<text x="292.6" y="391.5" font-size="16.6" textLength="66.3" lengthAdjust="spacingAndGlyphs">Time (s)</text>
<text transform="translate(17.3,220.9) rotate(-90)" font-size="16.6" textLength="54.1" lengthAdjust="spacingAndGlyphs">µM/ms</text>
</g>
<rect x="468.2" y="41.65" width="102.5" height="38.9" fill="#fff" stroke="#000" stroke-width="1"/>
<path d="M473.2,54.85H509.6" stroke="#009AFA" stroke-width="1.5"/>
<path d="M473.2,67.85H509.6" stroke="#E36F47" stroke-width="1.5"/>
<g font-family="Liberation Sans, sans-serif" font-size="12" fill="#000" stroke="#000" stroke-width="0.08" filter="url(#nf)">
<text y="59.1"><tspan x="513.9" textLength="16.6" lengthAdjust="spacingAndGlyphs">Ctl</tspan> <tspan x="537.6" textLength="27.9" lengthAdjust="spacingAndGlyphs">(Jrel)</tspan></text>
<text x="513.9" y="72.1" textLength="51.5" lengthAdjust="spacingAndGlyphs">Caf (Jrel)</text>
</g>
</svg>
</body></html>
